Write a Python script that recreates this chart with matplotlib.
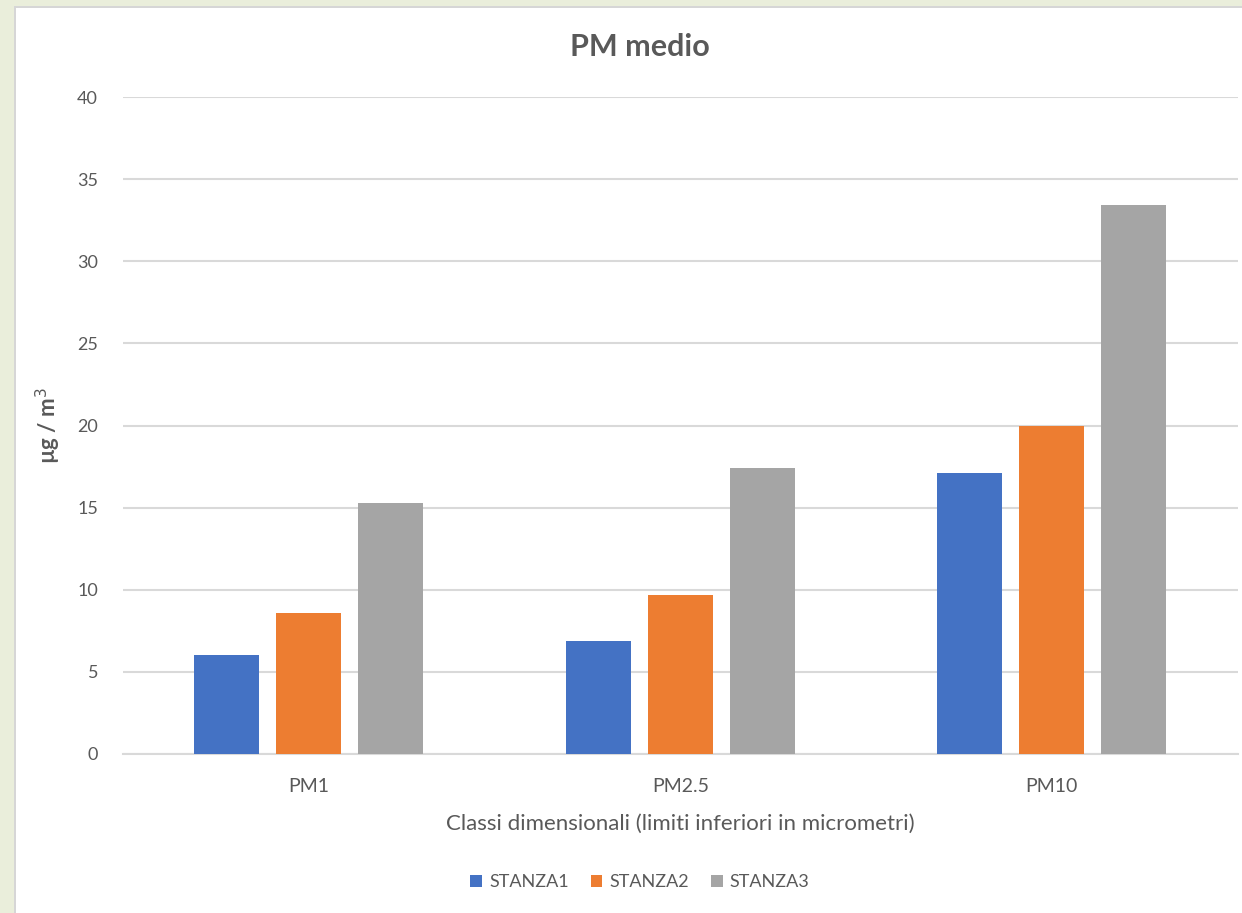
import matplotlib.pyplot as plt
import numpy as np
from matplotlib.patches import Rectangle

plt.rcParams['font.family'] = ['Lato', 'DejaVu Sans']

categories = ['PM1', 'PM2.5', 'PM10']
stanza1 = [6.0, 6.9, 17.1]
stanza2 = [8.6, 9.7, 20.0]
stanza3 = [15.3, 17.4, 33.4]
series = ['STANZA1', 'STANZA2', 'STANZA3']
colors = ['#4472C4', '#ED7D31', '#A5A5A5']
yticks = [0, 5, 10, 15, 20, 25, 30, 35, 40]

txt = '#595959'
grid = '#D9D9D9'

fig = plt.figure(figsize=(12.42, 9.13), dpi=100)
fig.patch.set_facecolor('white')

# beige frame on the left and top, with a thin grey border
fig.patches.append(Rectangle((0, 0), 14 / 1242, 1, transform=fig.transFigure,
                             facecolor='#EAEEDB', edgecolor='none', zorder=0))
fig.patches.append(Rectangle((0, 1 - 6 / 913), 1, 6 / 913, transform=fig.transFigure,
                             facecolor='#EAEEDB', edgecolor='none', zorder=0))
fig.patches.append(Rectangle((14 / 1242, 0), 2 / 1242, 1 - 6 / 913, transform=fig.transFigure,
                             facecolor='#D6D6D6', edgecolor='none', zorder=0))
fig.patches.append(Rectangle((14 / 1242, 1 - 8 / 913), 1, 2 / 913, transform=fig.transFigure,
                             facecolor='#D6D6D6', edgecolor='none', zorder=0))

ax = fig.add_axes([123 / 1242, 1 - 754 / 913, (1237.5 - 123) / 1242, (754 - 97) / 913])

x = np.arange(len(categories))
w = 0.175
step = 0.221
for i, (vals, name, c) in enumerate(zip([stanza1, stanza2, stanza3], series, colors)):
    ax.bar(x + (i - 1) * step, vals, width=w, color=c, label=name, zorder=3)

ax.set_xlim(-0.5, 2.5)
ax.set_ylim(0, 40)
ax.set_yticks(yticks)
ax.set_xticks(x)
ax.set_xticklabels(categories)
ax.yaxis.grid(True, color=grid, linewidth=1.5, zorder=0)
ax.set_axisbelow(True)
for s in ['top', 'right', 'left']:
    ax.spines[s].set_visible(False)
ax.spines['bottom'].set_color(grid)
ax.spines['bottom'].set_linewidth(1.5)
ax.tick_params(axis='both', length=0, labelcolor=txt)
ax.tick_params(axis='y', pad=18, labelsize=13)
ax.tick_params(axis='x', pad=17, labelsize=14)

fig.text(640 / 1242, 1 - 47 / 913, 'PM medio', fontsize=22, fontweight='bold',
         color=txt, ha='center', va='center')
ax.set_xlabel('Classi dimensionali (limiti inferiori in micrometri)', fontsize=16,
              color=txt, labelpad=14)
ax.set_ylabel('µg / m$^3$', fontsize=16, color=txt, fontweight='bold')
ax.yaxis.set_label_coords((63 - 123) / (1237.5 - 123), 0.5)

ax.legend(loc='center', bbox_to_anchor=(640 / 1242, 1 - 882 / 913), bbox_transform=fig.transFigure,
          ncol=3, frameon=False, fontsize=13, labelcolor=txt, handlelength=0.65,
          handleheight=0.65, handletextpad=0.4, columnspacing=1.2)

fig.savefig('out.png', dpi=100)
